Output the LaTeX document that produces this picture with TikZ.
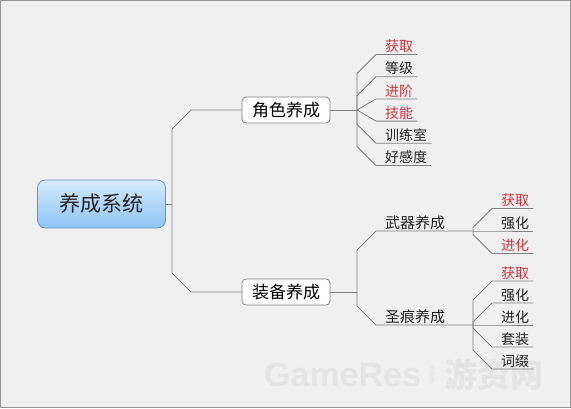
\documentclass[tikz,border=0pt]{standalone}
\usepackage{fontspec}
\setmainfont{Noto Sans CJK SC}
\newfontfamily\wmlatin{Liberation Sans}
\newfontfamily\wmcjk{Noto Sans CJK SC}
\definecolor{bg}{RGB}{240,240,240}
\definecolor{framecol}{RGB}{150,150,150}
\definecolor{conncol}{RGB}{128,128,128}
\definecolor{redtxt}{RGB}{200,55,65}
\definecolor{txt}{RGB}{35,35,35}
\definecolor{rootborder}{RGB}{110,145,185}
\definecolor{roottop}{RGB}{214,234,253}
\definecolor{rootbot}{RGB}{140,195,245}
\definecolor{wmcol}{RGB}{228,228,228}
\newcommand\lpad{\hspace*{5pt}}
\tikzset{
  conn/.style={draw=conncol, line width=0.8pt},
  rootbox/.style={rectangle, rounded corners=8pt, draw=rootborder, line width=0.8pt,
    top color=roottop, bottom color=rootbot, minimum width=128pt, minimum height=48pt,
    font=\fontsize{21}{21}\selectfont, text=txt},
  topicbox/.style={rectangle, rounded corners=4pt, draw=conncol, line width=0.8pt, fill=white,
    minimum width=88pt, minimum height=26pt, font=\fontsize{17}{17}\selectfont, text=black},
  leaf/.style={inner xsep=4pt, inner ysep=1.5pt, anchor=south west,
    font=\fontsize{14}{14}\selectfont, text=txt},
  midleaf/.style={leaf, font=\fontsize{15}{15}\selectfont},
  hot/.style={text=redtxt},
  wmark/.style={text=wmcol, inner sep=0pt},
}
\begin{document}
\begin{tikzpicture}[x=1pt,y=-1pt]
\useasboundingbox (0,0) rectangle (571,408);
\fill[bg] (0,0) rectangle (571,408);
\draw[framecol, line width=1pt] (0.5,0.5) rectangle (570.5,407.5);

% watermark
\node[wmark, anchor=base west, font=\wmlatin\bfseries\fontsize{34}{34}\selectfont] (wm1) at (264,386) {GameRes};
\node[wmark, rotate=-90, font=\wmlatin\bfseries\fontsize{8}{8}\selectfont] (wm2) at (432,374) {.com};
\node[wmark, font=\wmcjk\bfseries\fontsize{33}{33}\selectfont] (wm3) at (494,375) {游资网};

% nodes
\node[rootbox] (root) at (101.5,204) {养成系统};
\node[topicbox] (jsyc) at (286,110) {角色养成};
\node[topicbox] (zbyc) at (286,292) {装备养成};

\node[leaf,hot] (l1) at (376,54.5) {\lpad 获取};
\node[leaf] (l2) at (376,76.7) {\lpad 等级};
\node[leaf,hot] (l3) at (376,98.9) {\lpad 进阶};
\node[leaf,hot] (l4) at (376,121.1) {\lpad 技能};
\node[leaf] (l5) at (376,143.3) {\lpad 训练室};
\node[leaf] (l6) at (376,165.5) {\lpad 好感度};

\node[midleaf] (wq) at (376,231) {\lpad 武器养成};
\node[midleaf] (sh) at (376,325) {\lpad 圣痕养成};

\node[leaf,hot] (wa) at (492,208.5) {\lpad 获取};
\node[leaf] (wb) at (492,231) {\lpad 强化};
\node[leaf,hot] (wc) at (492,253.5) {\lpad 进化};

\node[leaf,hot] (sa) at (492,281) {\lpad 获取};
\node[leaf] (sb) at (492,303) {\lpad 强化};
\node[leaf] (sc) at (492,325) {\lpad 进化};
\node[leaf] (sd) at (492,347) {\lpad 套装};
\node[leaf] (se) at (492,369) {\lpad 词缀};

% junctions
\coordinate (t0) at (172,204);
\coordinate (t1) at (357,110);
\coordinate (t2) at (357,292);
\coordinate (t3) at (473,231);
\coordinate (t4) at (473,325);

% connectors
\draw[conn] (root.east) -- (t0);
\draw[conn] (t0) -- (172,129) -- (191,110) -- (jsyc.west);
\draw[conn] (t0) -- (172,273) -- (191,292) -- (zbyc.west);

\draw[conn] (jsyc.east) -- (t1);
\draw[conn] (t1) -- (357,73.5) -- (l1.south west) -- (l1.south east);
\draw[conn] (t1) -- (357,95.7) -- (l2.south west) -- (l2.south east);
\draw[conn] (t1) -- (l3.south west) -- (l3.south east);
\draw[conn] (t1) -- (l4.south west) -- (l4.south east);
\draw[conn] (t1) -- (357,124.3) -- (l5.south west) -- (l5.south east);
\draw[conn] (t1) -- (357,146.5) -- (l6.south west) -- (l6.south east);

\draw[conn] (zbyc.east) -- (t2);
\draw[conn] (t2) -- (357,250) -- (wq.south west) -- (t3);
\draw[conn] (t2) -- (357,306) -- (sh.south west) -- (t4);

\draw[conn] (t3) -- (473,227.5) -- (wa.south west) -- (wa.south east);
\draw[conn] (t3) -- (wb.south west) -- (wb.south east);
\draw[conn] (t3) -- (473,234.5) -- (wc.south west) -- (wc.south east);

\draw[conn] (t4) -- (473,300) -- (sa.south west) -- (sa.south east);
\draw[conn] (t4) -- (473,322) -- (sb.south west) -- (sb.south east);
\draw[conn] (t4) -- (sc.south west) -- (sc.south east);
\draw[conn] (t4) -- (473,328) -- (sd.south west) -- (sd.south east);
\draw[conn] (t4) -- (473,350) -- (se.south west) -- (se.south east);
\end{tikzpicture}
\end{document}
